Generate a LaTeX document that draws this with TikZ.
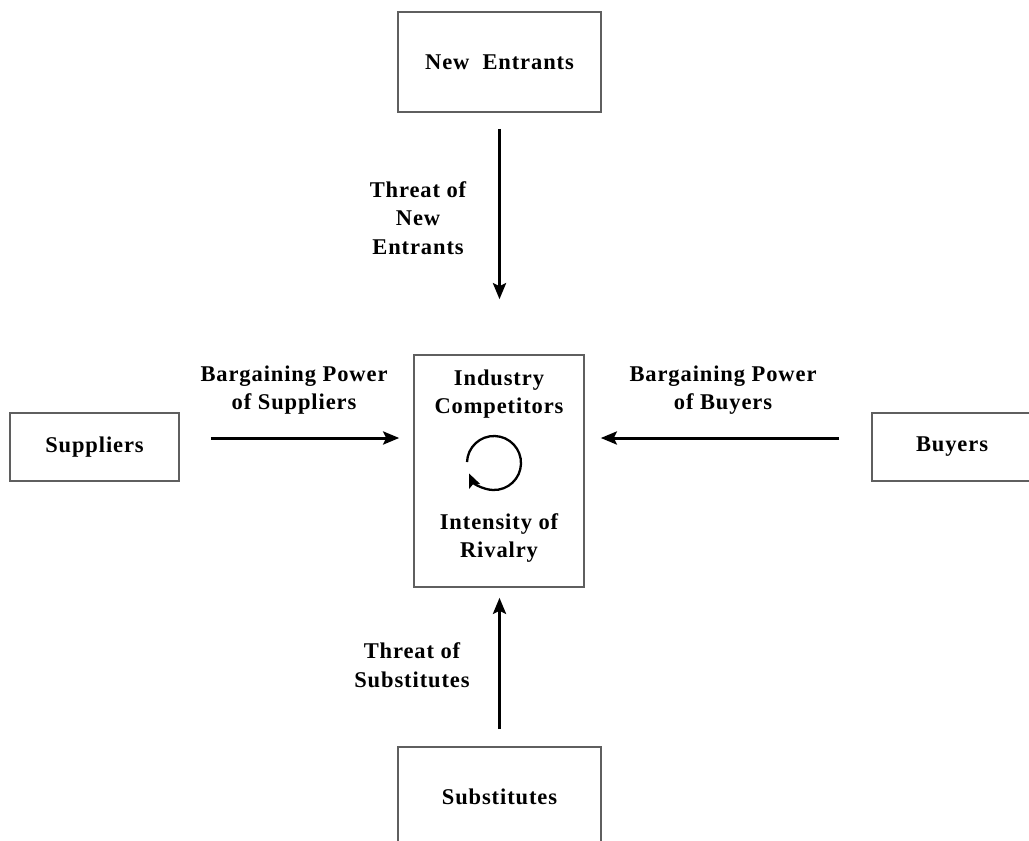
\documentclass[tikz,border=0pt]{standalone}
\usepackage{fontspec}
\setmainfont[LetterSpace=4]{Liberation Serif}
\usepackage{tikz}
\usetikzlibrary{arrows.meta,positioning}
\definecolor{boxgray}{RGB}{95,95,95}
\tikzstyle{forcebox} = [draw=boxgray, line width=1.6pt, inner sep=0pt, align=center]
\tikzstyle{arrow} = [line width=3pt,->,>={Stealth[length=16pt,width=13pt,inset=3pt]}]
\tikzstyle{label} = [align=center, inner sep=0pt]

\begin{document}
\begin{tikzpicture}[x=1pt, y=1pt, font=\fontsize{22.5}{28.5}\selectfont\bfseries]
\useasboundingbox (0,0) rectangle (1029,-841);
\clip (0,0) rectangle (1029,-841);

% Five forces
\node[forcebox, minimum width=203pt, minimum height=100pt] (entrants) at (499.5,-62) {New\ \ Entrants};
\node[forcebox, minimum width=170pt, minimum height=232pt] (rivalry) at (499,-471) {};
\node[forcebox, minimum width=169pt, minimum height=68pt] (suppliers) at (94.5,-447) {Suppliers};
\node[forcebox, minimum width=160pt, minimum height=68pt] (buyers) at (952,-447) {Buyers};
\node[forcebox, minimum width=203pt, minimum height=100pt] (substitutes) at (499.5,-797) {Substitutes};

% Inside the rivalry box
\node[label] (industry) at (499,-394) {Industry\\Competitors};
\node[label] (intensity) at (499,-538) {Intensity of\\Rivalry};
\coordinate (cycle) at (494,-463);
\draw[line width=2.3pt, ->, >={Stealth[length=14pt,width=12pt,inset=3pt]}] (cycle) ++(178:27) arc[start angle=178, end angle=-157, radius=27];

% Arrows
\draw[arrow, shorten <=16pt, shorten >=55pt] (entrants.south) -- (entrants.south |- rivalry.north);
\draw[arrow, shorten <=17pt, shorten >=10pt] (substitutes.north) -- (substitutes.north |- rivalry.south);
\draw[arrow, shorten <=31pt, shorten >=14pt] ([yshift=9pt]suppliers.east) -- ([yshift=9pt]suppliers.east -| rivalry.west);
\draw[arrow, shorten <=32pt, shorten >=16pt] ([yshift=9pt]buyers.west) -- ([yshift=9pt]buyers.west -| rivalry.east);

% Labels
\node[label] (lblentrants) at (418,-218) {Threat of\\New\\Entrants};
\node[label] (lblsuppliers) at (294,-390) {Bargaining Power\\of Suppliers};
\node[label] (lblbuyers) at (723,-390) {Bargaining Power\\of Buyers};
\node[label] (lblsubstitutes) at (412,-665) {Threat of\\Substitutes};
\end{tikzpicture}
\end{document}
